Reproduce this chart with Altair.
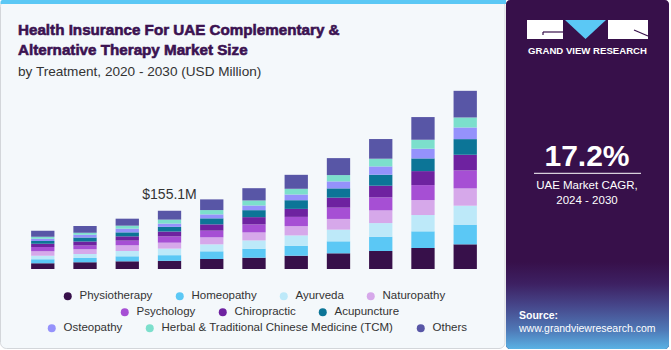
import altair as alt
import pandas as pd

# ---------------- data ----------------
years = ["2020", "2021", "2022", "2023", "2024", "2025", "2026", "2027", "2028", "2029", "2030"]
series = ["Physiotherapy", "Homeopathy", "Ayurveda", "Naturopathy", "Psychology",
          "Chiropractic", "Acupuncture", "Osteopathy",
          "Herbal & Traditional Chinese Medicine (TCM)", "Others"]
colors = ["#37104a", "#5bc8f5", "#bde9f9", "#d6a8ea", "#a64fd4",
          "#6e22a0", "#0c7597", "#9592fb", "#7cdfcc", "#5856a6"]

physiotherapy = [15.2, 17.8, 20.5, 21.8, 26.6, 30.1, 35.4, 41.8, 47.9, 55.9, 65.7]
homeopathy = [10.6, 11.4, 13.3, 15.0, 20.5, 23.9, 26.6, 31.9, 38.0, 44.4, 52.4]
ayurveda = [9.8, 10.6, 14.1, 17.5, 18.6, 22.1, 27.4, 31.1, 36.4, 43.4, 50.5]
naturopathy = [11.4, 12.5, 15.2, 15.8, 18.6, 21.3, 24.7, 28.5, 33.8, 39.9, 46.0]
psychology = [11.4, 10.6, 12.5, 16.6, 17.8, 21.3, 24.7, 30.1, 34.6, 39.9, 47.9]
chiropractic = [8.8, 10.6, 11.4, 13.1, 16.8, 19.4, 21.3, 26.6, 31.1, 37.2, 41.7]
acupuncture = [7.2, 10.6, 10.6, 12.4, 16.0, 18.6, 23.1, 24.7, 29.3, 33.8, 41.7]
osteopathy = [6.1, 7.2, 9.8, 8.8, 10.6, 12.5, 15.2, 18.6, 22.1, 25.8, 31.0]
tcm = [5.3, 5.3, 8.0, 10.5, 11.4, 13.3, 15.2, 16.8, 20.5, 23.9, 26.6]
others = [16.0, 17.8, 18.6, 23.6, 28.5, 32.7, 37.2, 45.2, 52.4, 60.4, 71.0]

series_values = [physiotherapy, homeopathy, ayurveda, naturopathy, psychology,
                 chiropractic, acupuncture, osteopathy, tcm, others]

annotated_year = "2023"
cagr_text = "17.2%"

rows = []
for i, (name, vals) in enumerate(zip(series, series_values)):
    for yr, v in zip(years, vals):
        rows.append({"year": yr, "series": name, "order": i, "value": v})
df = pd.DataFrame(rows)

# ---------------- layout ----------------
OX, OY = 10, 85          # plot origin in page pixels
W, H = 488, 184
FONT = "Liberation Sans"
one = pd.DataFrame({"a": [0]})


def px(x):
    return x - OX


def py(y):
    return y - OY


x_enc = alt.X("year:O", sort=years,
              scale=alt.Scale(paddingInner=0.448, paddingOuter=0.5),
              axis=alt.Axis(title=None, labelAngle=0, ticks=False, domain=False,
                            labelFont=FONT, labelFontSize=12.5, labelColor="#333333",
                            labelPadding=6, grid=False))
y_scale = alt.Scale(domain=[0, 490], nice=False, zero=True)

groups = [(0, 4), (4, 7), (7, 10)]
legend_pos = [(52, 205), (109, 221), (36, 237)]

bar_layers = []
for (a, b), (lx, ly) in zip(groups, legend_pos):
    names = series[a:b]
    cols = colors[a:b]
    layer = alt.Chart(df).transform_stack(
        stack="value", groupby=["year"], as_=["y0", "y1"],
        sort=[alt.SortField("order", order="ascending")]
    ).transform_filter(
        alt.FieldOneOfPredicate(field="series", oneOf=names)
    ).mark_bar().encode(
        x=x_enc,
        y=alt.Y("y0:Q", scale=y_scale, axis=None),
        y2="y1:Q",
        color=alt.Color("series:N",
                        scale=alt.Scale(domain=names, range=cols),
                        legend=alt.Legend(title=None, orient="none", legendX=lx, legendY=ly,
                                          direction="horizontal", symbolType="circle",
                                          symbolSize=64, symbolStrokeWidth=0,
                                          labelFont=FONT, labelFontSize=11.5,
                                          labelColor="#333333", columnPadding=21,
                                          labelOffset=6, labelLimit=400, padding=0)),
    )
    bar_layers.append(layer)

annotation = alt.Chart(df).transform_filter(
    alt.datum.year == annotated_year
).transform_aggregate(
    total="sum(value)", groupby=["year"]
).transform_calculate(
    label="'$' + format(datum.total, '.1f') + 'M'"
).mark_text(baseline="bottom", dy=-9, font=FONT, fontSize=14, color="#333333").encode(
    x=x_enc, y=alt.Y("total:Q", scale=y_scale, axis=None), text="label:N"
)


def rect(x1, x2, y1, y2, **kw):
    return alt.Chart(one).mark_rect(**kw).encode(
        x=alt.value(px(x1)), x2=alt.value(px(x2)),
        y=alt.value(py(y1)), y2=alt.value(py(y2)))


def line(x1, x2, y1, y2, **kw):
    return alt.Chart(one).mark_rule(**kw).encode(
        x=alt.value(px(x1)), x2=alt.value(px(x2)),
        y=alt.value(py(y1)), y2=alt.value(py(y2)))


def label(txt, x, y, **kw):
    return alt.Chart(one).mark_text(**kw).encode(
        x=alt.value(px(x)), y=alt.value(py(y)), text=alt.value(txt))


left_panel = rect(0.5, 505, 0.5, 348.5, fill="#f4f8fb", stroke="#d3d6da", strokeWidth=1,
                  cornerRadius=6)
stripe = rect(0.5, 506, 0, 4, fill="#5bc8f5", cornerRadiusTopLeft=5)
right_panel = rect(506, 669, 0, 349, fill="#37104a", cornerRadius=4)
gradient = rect(506, 669, 262, 349, cornerRadiusBottomLeft=4, cornerRadiusBottomRight=4,
                color=alt.LinearGradient(
                    gradient="linear", x1=0, x2=0, y1=0, y2=1,
                    stops=[alt.GradientStop(color="#37104a", offset=0),
                           alt.GradientStop(color="#3d2062", offset=0.25),
                           alt.GradientStop(color="#46468a", offset=0.5),
                           alt.GradientStop(color="#4f78b6", offset=0.78),
                           alt.GradientStop(color="#5ab2e4", offset=1)]))

title_color = "#3b1251"
title1 = label("Health Insurance For UAE Complementary &", 18, 35, align="left",
               baseline="alphabetic", font=FONT, fontSize=15.2, fontWeight="bold",
               color=title_color, stroke=title_color, strokeWidth=0.6)
title2 = label("Alternative Therapy Market Size", 18, 55, align="left",
               baseline="alphabetic", font=FONT, fontSize=15.2, fontWeight="bold",
               color=title_color, stroke=title_color, strokeWidth=0.6)
subtitle = label("by Treatment, 2020 - 2030 (USD Million)", 18, 76, align="left",
                 baseline="alphabetic", font=FONT, fontSize=13.6, color="#333333")

# logo
logo_g = rect(527, 563, 20, 39, fill="#ffffff")
logo_g_l1 = line(543, 563, 32, 32, color="#37104a", strokeWidth=1.2)
logo_g_l2 = line(543, 543, 32, 35, color="#37104a", strokeWidth=1.2)
logo_tri = alt.Chart(one).mark_point(
    shape="M-1,-0.46 L1,-0.46 L0,0.46 Z", filled=True, fill="#5bc8f5", opacity=1,
    size=41 * 41, strokeWidth=0
).encode(x=alt.value(px(585.5)), y=alt.value(py(29.5)))
logo_e = rect(608, 648, 20, 39, fill="#ffffff")
logo_e_l = line(634, 648, 30, 36, color="#37104a", strokeWidth=1.2)
logo_text = label("GRAND VIEW RESEARCH", 587.5, 50.7, align="center", baseline="middle",
                  font=FONT, fontSize=9.6, fontWeight="bold", color="#ffffff")

cagr = label(cagr_text, 587, 165.7, align="center", baseline="alphabetic", font=FONT,
             fontSize=30, fontWeight="bold", color="#ffffff")
cagr_rule = line(534, 641, 173.3, 173.3, color="#ffffff", strokeWidth=1)
cagr_l1 = label("UAE Market CAGR,", 587, 186, align="center", baseline="middle", font=FONT,
                fontSize=11.5, color="#ffffff")
cagr_l2 = label("2024 - 2030", 587, 200.7, align="center", baseline="middle", font=FONT,
                fontSize=11.5, color="#ffffff")
src1 = label("Source:", 519, 316, align="left", baseline="middle", font=FONT,
             fontSize=10.5, fontWeight="bold", color="#ffffff")
src2 = label("www.grandviewresearch.com", 519, 329, align="left", baseline="middle",
             font=FONT, fontSize=10.5, color="#ffffff")

chart = alt.layer(
    left_panel, stripe, right_panel, gradient,
    *bar_layers, annotation,
    title1, title2, subtitle,
    logo_g, logo_g_l1, logo_g_l2, logo_tri, logo_e, logo_e_l, logo_text,
    cagr, cagr_rule, cagr_l1, cagr_l2, src1, src2,
).resolve_scale(
    color="independent"
).properties(
    width=W, height=H,
    padding={"left": OX, "top": OY, "right": 671 - OX - W, "bottom": 350 - OY - H},
    autosize=alt.AutoSizeParams(type="none"),
    background="#ffffff",
).configure_view(stroke=None)

chart.save("out.html", embed_options={"renderer": "svg", "actions": False})
